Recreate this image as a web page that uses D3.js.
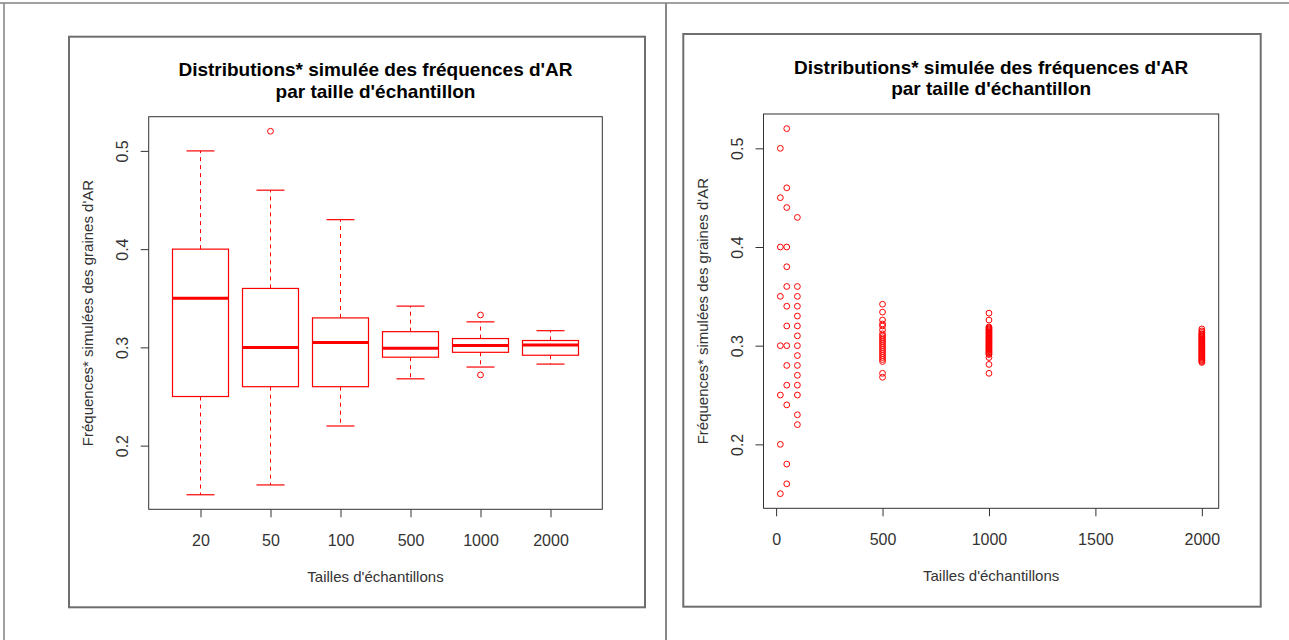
<!DOCTYPE html>
<html>
<head>
<meta charset="utf-8">
<script src="https://cdn.jsdelivr.net/npm/d3@7"></script>
<style>
  body { margin: 0; background: #fff; }
  text { font-family: "Liberation Sans", Arial, sans-serif; }
</style>
</head>
<body>
<svg id="chart" width="1289" height="640"></svg>
<script>
// sample sizes (categories)
const sizes = ["20", "50", "100", "500", "1000", "2000"];
const sizeValues = [20, 50, 100, 500, 1000, 2000];

// boxplot stats
const boxLow = [0.15, 0.16, 0.22, 0.268, 0.28, 0.283];
const boxQ1 = [0.25, 0.26, 0.26, 0.29, 0.295, 0.292];
const boxMed = [0.35, 0.30, 0.305, 0.299, 0.302, 0.3025];
const boxQ3 = [0.40, 0.36, 0.33, 0.316, 0.309, 0.307];
const boxHigh = [0.50, 0.46, 0.43, 0.342, 0.326, 0.317];
const boxOutliers = [[], [0.52], [], [], [0.333, 0.272], []];

// simulated frequencies (right panel points)
const freq20 = [0.50, 0.45, 0.40, 0.35, 0.30, 0.25, 0.20, 0.15];
const freq50 = [0.52, 0.46, 0.44, 0.40, 0.38, 0.36, 0.34, 0.32, 0.30, 0.28, 0.26, 0.24, 0.18, 0.16];
const freq100 = [0.43, 0.36, 0.35, 0.34, 0.33, 0.32, 0.31, 0.30, 0.29, 0.28, 0.27, 0.26, 0.25, 0.23, 0.22];
const freq500 = [0.342, 0.334, 0.326, 0.322, 0.320, 0.316, 0.312, 0.310, 0.308, 0.306, 0.304, 0.302,
  0.300, 0.298, 0.296, 0.294, 0.292, 0.290, 0.288, 0.286, 0.284, 0.272, 0.268];
const freq1000 = [0.333, 0.326, 0.319, 0.318, 0.317, 0.316, 0.315, 0.314, 0.313, 0.312, 0.311, 0.310,
  0.309, 0.308, 0.307, 0.306, 0.305, 0.304, 0.303, 0.302, 0.301, 0.300, 0.299, 0.298, 0.297, 0.296,
  0.295, 0.294, 0.293, 0.292, 0.291, 0.288, 0.281, 0.272];
const freq2000 = [0.317, 0.315, 0.3135, 0.312, 0.311, 0.310, 0.309, 0.308, 0.307, 0.306, 0.305, 0.304,
  0.303, 0.302, 0.301, 0.300, 0.299, 0.298, 0.297, 0.296, 0.295, 0.294, 0.293, 0.292, 0.291, 0.290,
  0.289, 0.288, 0.287, 0.286, 0.285, 0.284, 0.283];
const freqs = [freq20, freq50, freq100, freq500, freq1000, freq2000];

const yTicks = [0.2, 0.3, 0.4, 0.5];
const xTicksScatter = [0, 500, 1000, 1500, 2000];

const titleLines = ["Distributions* simulée des fréquences d'AR", "par taille d'échantillon"];
const xLabel = "Tailles d'échantillons";
const yLabel = "Fréquences* simulées des graines d'AR";

const RED = "#ff0000";
const svg = d3.select("#chart");

// outer screenshot lines
svg.append("line").attr("x1", 0).attr("x2", 1289).attr("y1", 3).attr("y2", 3)
  .attr("stroke", "#808080").attr("stroke-width", 1.5);
svg.append("line").attr("x1", 4).attr("x2", 4).attr("y1", 3).attr("y2", 640)
  .attr("stroke", "#808080").attr("stroke-width", 1.5);
svg.append("line").attr("x1", 666).attr("x2", 666).attr("y1", 3).attr("y2", 640)
  .attr("stroke", "#888").attr("stroke-width", 2);

// padded extent like R (4% each side)
const pad = (ext) => {
  const d = (ext[1] - ext[0]) * 0.04;
  return [ext[0] - d, ext[1] + d];
};
const allVals = freqs.flat();
const yDomain = pad(d3.extent(allVals));

function panel(box, plot) {
  svg.append("rect")
    .attr("x", box.x0).attr("y", box.y0)
    .attr("width", box.x1 - box.x0).attr("height", box.y1 - box.y0)
    .attr("fill", "none").attr("stroke", "#6e6e6e").attr("stroke-width", 2);

  const g = svg.append("g");
  const cx = (plot.x0 + plot.x1) / 2;
  const cy = (plot.y0 + plot.y1) / 2;

  titleLines.forEach((t, i) => {
    g.append("text")
      .attr("x", cx).attr("y", plot.y0 - 47 + i * 21.5)
      .attr("dy", "0.35em")
      .attr("text-anchor", "middle")
      .attr("font-size", 19).attr("font-weight", "bold")
      .attr("fill", "#000")
      .text(t);
  });

  g.append("text")
    .attr("x", cx).attr("y", plot.y1 + 67)
    .attr("dy", "0.35em")
    .attr("text-anchor", "middle")
    .attr("font-size", 15).attr("fill", "#333")
    .text(xLabel);

  g.append("text")
    .attr("transform", `translate(${plot.x0 - 61},${cy}) rotate(-90)`)
    .attr("dy", "0.35em")
    .attr("text-anchor", "middle")
    .attr("font-size", 15).attr("fill", "#333")
    .text(yLabel);

  return g;
}

function styleAxis(ax) {
  ax.select(".domain").remove();
  ax.selectAll(".tick line").attr("stroke", "#333");
  ax.selectAll(".tick text").attr("fill", "#333").attr("font-size", 16)
    .attr("font-family", "Liberation Sans, Arial, sans-serif");
}

function yAxis(g, y, plot) {
  const ax = g.append("g")
    .attr("transform", `translate(${plot.x0},0)`)
    .call(d3.axisLeft(y).tickValues(yTicks).tickSize(8).tickFormat(d3.format(".1f")));
  styleAxis(ax);
  ax.selectAll(".tick text")
    .attr("x", null).attr("y", null).attr("dy", "0.35em")
    .attr("text-anchor", "middle")
    .attr("transform", "translate(-26,0) rotate(-90)");
}

function xAxis(g, x, plot, ticks, fmt) {
  const ax = g.append("g")
    .attr("transform", `translate(0,${plot.y1})`)
    .call(d3.axisBottom(x).tickValues(ticks).tickSize(8).tickFormat(fmt));
  styleAxis(ax);
  ax.selectAll(".tick text").attr("y", 31).attr("dy", "0.35em");
}

// ---------- left: boxplot ----------
const pL = { x0: 148.7, x1: 602.3, y0: 116.7, y1: 509.3 };
const gL = panel({ x0: 69, x1: 645, y0: 36.7, y1: 607.3 }, pL);

const xB = d3.scaleLinear().domain(pad([0.5, sizes.length + 0.5])).range([pL.x0, pL.x1]);
const yL = d3.scaleLinear().domain(yDomain).range([pL.y1, pL.y0]);

const boxes = sizes.map((s, i) => ({
  i: i + 1, low: boxLow[i], q1: boxQ1[i], med: boxMed[i], q3: boxQ3[i], high: boxHigh[i], out: boxOutliers[i]
}));

const bg = gL.selectAll(".box").data(boxes).enter().append("g").attr("class", "box");
// whiskers
bg.append("line")
  .attr("x1", d => xB(d.i)).attr("x2", d => xB(d.i))
  .attr("y1", d => yL(d.q3)).attr("y2", d => yL(d.high))
  .attr("stroke", RED).attr("stroke-dasharray", "4,4");
bg.append("line")
  .attr("x1", d => xB(d.i)).attr("x2", d => xB(d.i))
  .attr("y1", d => yL(d.q1)).attr("y2", d => yL(d.low))
  .attr("stroke", RED).attr("stroke-dasharray", "4,4");
// staples
["low", "high"].forEach(k => {
  bg.append("line")
    .attr("x1", d => xB(d.i - 0.2)).attr("x2", d => xB(d.i + 0.2))
    .attr("y1", d => yL(d[k])).attr("y2", d => yL(d[k]))
    .attr("stroke", RED).attr("stroke-width", 1.2);
});
// box
bg.append("rect")
  .attr("x", d => xB(d.i - 0.4))
  .attr("width", d => xB(d.i + 0.4) - xB(d.i - 0.4))
  .attr("y", d => yL(d.q3))
  .attr("height", d => yL(d.q1) - yL(d.q3))
  .attr("fill", "#fff").attr("stroke", RED).attr("stroke-width", 1.2);
// median
bg.append("line")
  .attr("x1", d => xB(d.i - 0.4)).attr("x2", d => xB(d.i + 0.4))
  .attr("y1", d => yL(d.med)).attr("y2", d => yL(d.med))
  .attr("stroke", RED).attr("stroke-width", 3);
// outliers
bg.selectAll(".out").data(d => d.out.map(v => ({ i: d.i, v }))).enter()
  .append("circle")
  .attr("cx", d => xB(d.i)).attr("cy", d => yL(d.v)).attr("r", 2.9)
  .attr("fill", "none").attr("stroke", RED);

gL.append("rect")
  .attr("x", pL.x0).attr("y", pL.y0)
  .attr("width", pL.x1 - pL.x0).attr("height", pL.y1 - pL.y0)
  .attr("fill", "none").attr("stroke", "#333");

yAxis(gL, yL, pL);
xAxis(gL, xB, pL, d3.range(1, sizes.length + 1), d => sizes[d - 1]);

// ---------- right: scatter ----------
const pR = { x0: 763.5, x1: 1218.7, y0: 114, y1: 508.3 };
const gR = panel({ x0: 683.3, x1: 1260.7, y0: 34, y1: 606.7 }, pR);

const xS = d3.scaleLinear().domain(pad(d3.extent(sizeValues))).range([pR.x0, pR.x1]);
const yR = d3.scaleLinear().domain(yDomain).range([pR.y1, pR.y0]);

const pts = [];
freqs.forEach((arr, i) => arr.forEach(v => pts.push({ n: sizeValues[i], v })));

gR.selectAll(".pt").data(pts).enter().append("circle")
  .attr("class", "pt")
  .attr("cx", d => xS(d.n)).attr("cy", d => yR(d.v)).attr("r", 2.9)
  .attr("fill", "none").attr("stroke", RED);

gR.append("rect")
  .attr("x", pR.x0).attr("y", pR.y0)
  .attr("width", pR.x1 - pR.x0).attr("height", pR.y1 - pR.y0)
  .attr("fill", "none").attr("stroke", "#333");

yAxis(gR, yR, pR);
xAxis(gR, xS, pR, xTicksScatter, d3.format("d"));
</script>
</body>
</html>
